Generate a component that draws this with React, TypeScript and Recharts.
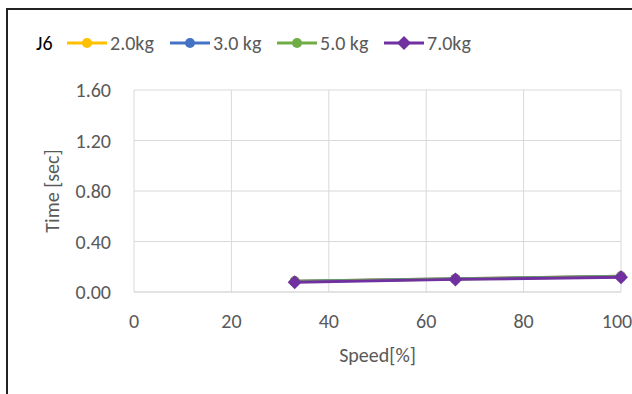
import React from 'react'
import { LineChart, Line, XAxis, YAxis, CartesianGrid } from 'recharts'

const speeds = [33, 66, 100]
const kg2 = [0.085, 0.105, 0.125]
const kg3 = [0.085, 0.105, 0.124]
const kg5 = [0.083, 0.103, 0.122]
const kg7 = [0.077, 0.1, 0.116]

const xTicks = [0, 20, 40, 60, 80, 100]
const yTicks = [0, 0.4, 0.8, 1.2, 1.6]

const series = [
  { key: 'kg2', name: '2.0kg', color: '#FFC000', shape: 'circle', left: 67 },
  { key: 'kg3', name: '3.0 kg', color: '#4472C4', shape: 'circle', left: 170 },
  { key: 'kg5', name: '5.0 kg', color: '#70AD47', shape: 'circle', left: 277 },
  { key: 'kg7', name: '7.0kg', color: '#7030A0', shape: 'diamond', left: 384 },
]

const data = speeds.map((s, i) => ({
  speed: s,
  kg2: kg2[i],
  kg3: kg3[i],
  kg5: kg5[i],
  kg7: kg7[i],
}))

const font = 'Calibri, Carlito, Lato, sans-serif'

const Diamond = (props: any) => {
  const { cx, cy, fill } = props
  if (cx == null || cy == null) return null
  const r = 7
  return (
    <polygon
      points={`${cx},${cy - r} ${cx + r},${cy} ${cx},${cy + r} ${cx - r},${cy}`}
      fill={fill}
    />
  )
}

const Dot = (props: any) => {
  const { cx, cy, fill } = props
  if (cx == null || cy == null) return null
  return <circle cx={cx} cy={cy} r={5} fill={fill} />
}

// legend drawn outside recharts so it doesn't eat the plot margin
const ChartLegend = () => (
  <div style={{ position: 'absolute', top: 30, left: 0, height: 26, width: 632, fontFamily: font, fontSize: 20, color: '#595959' }}>
    <span style={{ position: 'absolute', left: 36, top: 0, lineHeight: '26px', color: '#000' }}>J6</span>
    {series.map((s) => (
      <span key={s.key} style={{ position: 'absolute', left: s.left, top: 0, display: 'flex', alignItems: 'center', height: 26 }}>
        <svg width={40} height={20} style={{ marginRight: 3 }}>
          <line x1={0} y1={10} x2={40} y2={10} stroke={s.color} strokeWidth={3} />
          {s.shape === 'diamond' ? (
            <polygon points="20,3 27,10 20,17 13,10" fill={s.color} />
          ) : (
            <circle cx={20} cy={10} r={5} fill={s.color} />
          )}
        </svg>
        {s.name}
      </span>
    ))}
  </div>
)

export default function App() {
  return (
    <div style={{ position: 'fixed', top: 0, left: 0, width: 632, height: 394, background: '#fff', overflow: 'hidden' }}>
      <div
        style={{
          position: 'absolute',
          top: 8,
          left: 6,
          width: 640,
          height: 400,
          borderTop: '2px solid #222',
          borderLeft: '2px solid #222',
        }}
      />
      <ChartLegend />
      <LineChart
        width={632}
        height={394}
        data={data}
        margin={{ top: 90, right: 11, left: 74, bottom: 24 }}
        style={{ position: 'absolute', top: 0, left: 0, fontFamily: font }}
      >
        <CartesianGrid stroke="#d9d9d9" strokeWidth={1} />
        <XAxis
          dataKey="speed"
          type="number"
          domain={[0, 100]}
          ticks={xTicks}
          height={78}
          axisLine={{ stroke: '#d9d9d9' }}
          tickLine={false}
          tickSize={0}
          tickMargin={22}
          tick={{ fill: '#595959', fontSize: 20 }}
          label={{ value: 'Speed[%]', position: 'insideBottom', offset: 8, fill: '#595959', fontSize: 20 }}
        />
        <YAxis
          type="number"
          domain={[0, 1.6]}
          ticks={yTicks}
          width={60}
          axisLine={false}
          tickLine={false}
          tickSize={0}
          tickMargin={23}
          tickFormatter={(v: number) => v.toFixed(2)}
          tick={{ fill: '#595959', fontSize: 20 }}
          label={{ value: 'Time [sec]', angle: -90, position: 'insideLeft', offset: -22, fill: '#595959', fontSize: 20, style: { textAnchor: 'middle' } }}
        />
        {series.map((s) => (
          <Line
            key={s.key}
            dataKey={s.key}
            name={s.name}
            stroke={s.color}
            strokeWidth={3}
            fill={s.color}
            dot={s.shape === 'diamond' ? <Diamond fill={s.color} /> : <Dot fill={s.color} />}
            activeDot={false}
            isAnimationActive={false}
          />
        ))}
      </LineChart>
    </div>
  )
}
